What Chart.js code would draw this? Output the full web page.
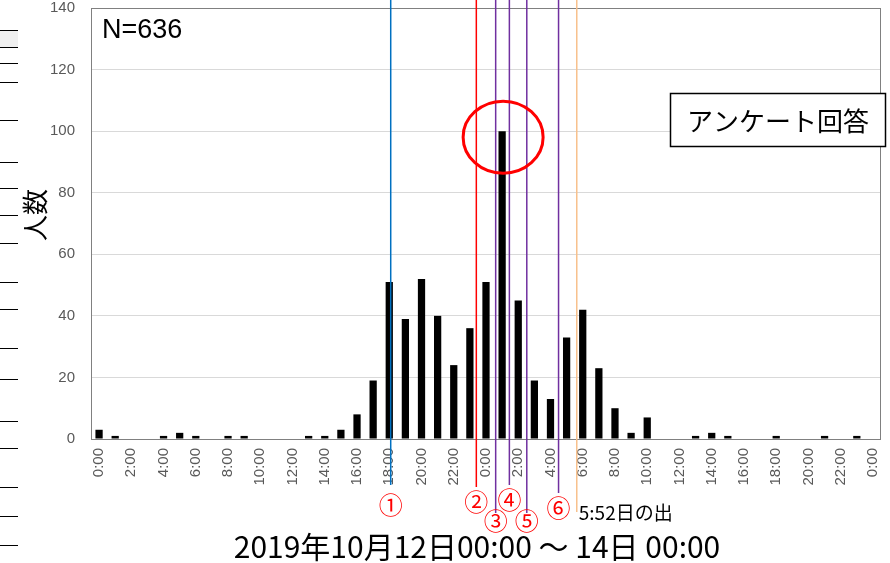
<!DOCTYPE html>
<html>
<head>
<meta charset="utf-8">
<script src="https://cdn.jsdelivr.net/npm/chart.js@4.4.1/dist/chart.umd.min.js"></script>
<style>
  html, body { margin: 0; padding: 0; background: #fff; }
  #wrap { width: 890px; height: 563px; }
</style>
</head>
<body>
<div id="wrap"><canvas id="myChart" width="890" height="563"></canvas></div>
<script>
// 12日0:00 から 14日0:00 まで 1時間ごと
const hours = [
  '0:00','1:00','2:00','3:00','4:00','5:00','6:00','7:00','8:00','9:00','10:00','11:00',
  '12:00','13:00','14:00','15:00','16:00','17:00','18:00','19:00','20:00','21:00','22:00','23:00',
  '0:00','1:00','2:00','3:00','4:00','5:00','6:00','7:00','8:00','9:00','10:00','11:00',
  '12:00','13:00','14:00','15:00','16:00','17:00','18:00','19:00','20:00','21:00','22:00','23:00',
  '0:00'
];
const counts = [
  3, 1, 0, 0, 1, 2, 1, 0, 1, 1, 0, 0,
  0, 1, 1, 3, 8, 19, 51, 39, 52, 40, 24, 36,
  51, 100, 45, 19, 13, 33, 42, 23, 10, 2, 7, 0,
  0, 1, 2, 1, 0, 0, 1, 0, 0, 1, 0, 1,
  0
];
const yMax = 140;
const yStep = 20;

// 出来事の時刻（12日0:00 からの時間）
const markerNames = ['①', '②', '③', '④', '⑤', '⑥'];
const markerHours = [18.09, 23.4, 24.6, 25.45, 26.53, 28.5];
const sunriseHour = 29.63;
const sunriseLabel = '5:52日の出';

const totalLabel = 'N=636';
const boxLabel = 'アンケート回答';
const xTitle = '2019年10月12日00:00 ～ 14日 00:00';
const yTitle = '人数';

const jp = '"Noto Sans CJK JP", "Liberation Sans", sans-serif';
const latin = '"Liberation Sans", Arial, "Noto Sans CJK JP", sans-serif';

// 線・番号の見た目
const markerColors = ['#0070C0', '#FF0000', '#7030A0', '#7030A0', '#7030A0', '#7030A0'];
const markerLineEnd = [485, 487, 513, 485, 513, 493];
const markerTextY = [505, 502, 521, 500, 521, 508];

// 左端の切れ端
const edgeMarks = [30, 47, 63, 82, 120, 162, 188, 215, 243, 282, 309, 348, 379, 421, 448, 487, 516, 545];

const overlay = {
  id: 'overlay',
  afterDatasetsDraw(chart) {
    const { ctx, chartArea: a, scales: { x, y } } = chart;
    ctx.save();

    // 枠
    ctx.strokeStyle = '#808080';
    ctx.lineWidth = 1;
    ctx.strokeRect(a.left + 0.5, a.top + 0.5, a.right - a.left - 1, a.bottom - a.top);

    // 縦線
    ctx.lineWidth = 1.5;
    markerHours.forEach((h, i) => {
      const px = x.getPixelForValue(h);
      ctx.strokeStyle = markerColors[i];
      ctx.beginPath();
      ctx.moveTo(px, 0);
      ctx.lineTo(px, markerLineEnd[i]);
      ctx.stroke();
    });
    const sx = x.getPixelForValue(sunriseHour);
    ctx.strokeStyle = '#F8C08C';
    ctx.beginPath();
    ctx.moveTo(sx, 0);
    ctx.lineTo(sx, 512);
    ctx.stroke();

    // ピークの丸
    const peak = Math.max(...counts);
    const pi = counts.indexOf(peak);
    ctx.strokeStyle = '#FF0000';
    ctx.lineWidth = 3;
    ctx.beginPath();
    ctx.ellipse(x.getPixelForValue(pi) + 1, y.getPixelForValue(peak) + 6, 40, 36, 0, 0, Math.PI * 2);
    ctx.stroke();

    ctx.restore();
  },
  afterDraw(chart) {
    const { ctx, chartArea: a, scales: { x } } = chart;
    ctx.save();

    // 丸数字
    ctx.fillStyle = '#FF0000';
    ctx.font = '24px ' + jp;
    ctx.textAlign = 'center';
    ctx.textBaseline = 'middle';
    markerHours.forEach((h, i) => {
      ctx.fillText(markerNames[i], x.getPixelForValue(h), markerTextY[i]);
    });

    // 日の出
    ctx.fillStyle = '#000';
    ctx.font = '19px ' + jp;
    ctx.textAlign = 'left';
    ctx.fillText(sunriseLabel, x.getPixelForValue(sunriseHour) + 2, 513);

    // N
    ctx.font = '27px ' + latin;
    ctx.textBaseline = 'alphabetic';
    ctx.fillText(totalLabel, a.left + 11, 38);

    // 凡例の箱
    ctx.fillStyle = '#fff';
    ctx.fillRect(670, 93, 216, 54);
    ctx.strokeStyle = '#000';
    ctx.lineWidth = 1.5;
    ctx.strokeRect(670.5, 93.5, 215, 53);
    ctx.fillStyle = '#000';
    ctx.font = '26px ' + jp;
    ctx.textAlign = 'center';
    ctx.textBaseline = 'middle';
    ctx.fillText(boxLabel, 778, 121);

    // 軸タイトル
    ctx.font = '30px ' + jp;
    ctx.fillText(xTitle, 477, 547);
    ctx.save();
    ctx.translate(35, 215);
    ctx.rotate(-Math.PI / 2);
    ctx.font = '26px ' + jp;
    ctx.fillText(yTitle, 0, 0);
    ctx.restore();

    // 左端
    ctx.fillStyle = '#f0f0f0';
    ctx.fillRect(0, edgeMarks[0], 18, edgeMarks[1] - edgeMarks[0]);
    ctx.strokeStyle = '#000';
    ctx.lineWidth = 1;
    edgeMarks.forEach(m => {
      ctx.beginPath();
      ctx.moveTo(0, m + 0.5);
      ctx.lineTo(18, m + 0.5);
      ctx.stroke();
    });

    ctx.restore();
  }
};

new Chart(document.getElementById('myChart'), {
  type: 'bar',
  data: {
    labels: hours,
    datasets: [{
      data: counts,
      backgroundColor: '#000',
      categoryPercentage: 1,
      barPercentage: 0.45
    }]
  },
  options: {
    responsive: false,
    animation: false,
    devicePixelRatio: 1,
    layout: { padding: { top: 8, right: 9, left: 0, bottom: 0 } },
    scales: {
      x: {
        afterFit(scale) {
          scale.height = 124;
          scale.paddingLeft = 0;
          scale.paddingRight = 0;
        },
        grid: { display: false, drawTicks: false },
        border: { display: false },
        ticks: {
          autoSkip: false,
          maxRotation: 90,
          minRotation: 90,
          padding: 9,
          color: '#595959',
          font: { family: latin, size: 15 },
          callback(value, index) { return index % 2 === 0 ? hours[index] : ''; }
        }
      },
      y: {
        min: 0,
        max: yMax,
        afterFit(scale) {
          scale.width = 91;
          scale.paddingTop = 0;
          scale.paddingBottom = 0;
        },
        grid: { color: '#d9d9d9', lineWidth: 1, drawTicks: false },
        border: { display: false },
        ticks: {
          stepSize: yStep,
          padding: 16,
          color: '#595959',
          font: { family: latin, size: 15 }
        }
      }
    },
    plugins: {
      legend: { display: false },
      tooltip: { enabled: false }
    }
  },
  plugins: [overlay]
});
</script>
</body>
</html>
